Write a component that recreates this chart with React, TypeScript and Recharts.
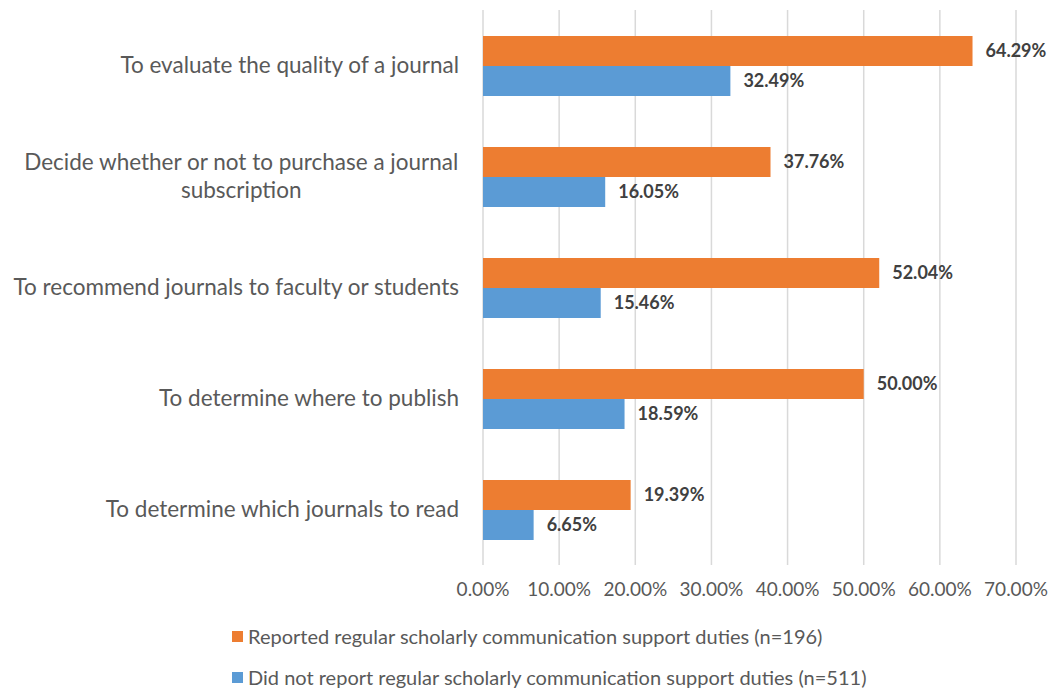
import React from "react";
import {
  BarChart,
  Bar,
  XAxis,
  YAxis,
  CartesianGrid,
  Legend,
  LabelList,
} from "recharts";

// Survey purposes (line breaks where the original wraps)
const CATEGORIES = [
  "To evaluate the quality of a journal",
  "Decide whether or not to purchase a journal\nsubscription",
  "To recommend journals to faculty or students",
  "To determine where to publish",
  "To determine which journals to read",
];

const REPORTED = [64.29, 37.76, 52.04, 50.0, 19.39];
const NOT_REPORTED = [32.49, 16.05, 15.46, 18.59, 6.65];

const X_TICKS = [0, 10, 20, 30, 40, 50, 60, 70];

const SERIES = [
  { key: "reported", name: "Reported regular scholarly communication support duties (n=196)", color: "#ED7D31" },
  { key: "notReported", name: "Did not report regular scholarly communication support duties (n=511)", color: "#5B9BD5" },
];

const FONT = "Lato, 'Open Sans', sans-serif";
const TEXT_GREY = "#595959";
const CAT_SIZE = 22.5;

const data = CATEGORIES.map((c, i) => ({
  category: c,
  reported: REPORTED[i],
  notReported: NOT_REPORTED[i],
}));

let ctx: CanvasRenderingContext2D | null = null;
function measure(text: string, font: string): number {
  if (!ctx) ctx = document.createElement("canvas").getContext("2d");
  if (!ctx) return text.length * 10;
  ctx.font = font;
  return ctx.measureText(text).width;
}

const CategoryTick = (props: any) => {
  const { x, y, payload } = props;
  const lines = String(payload.value).split("\n");
  const lh = 28;
  const y0 = y - ((lines.length - 1) * lh) / 2;
  if (lines.length === 1) {
    return (
      <text x={x} y={y} dy="0.35em" textAnchor="end" fill={TEXT_GREY} fontSize={CAT_SIZE} fontFamily={FONT}>
        {lines[0]}
      </text>
    );
  }
  // multi-line labels are centred on their widest line, like Excel does
  const w = Math.max(...lines.map(l => measure(l, `${CAT_SIZE}px Lato`)));
  const cx = x - w / 2;
  return (
    <text textAnchor="middle" fill={TEXT_GREY} fontSize={CAT_SIZE} fontFamily={FONT}>
      {lines.map((l, i) => (
        <tspan key={i} x={cx} y={y0 + i * lh} dy="0.35em">{l}</tspan>
      ))}
    </text>
  );
};

const LegendBox = () => (
  <div style={{ height: 84, position: "relative", fontFamily: FONT, fontSize: 20, color: TEXT_GREY }}>
    {SERIES.map((s, i) => (
      <div
        key={s.key}
        style={{ position: "absolute", left: 232, top: 19 + i * 41, display: "flex", alignItems: "center", whiteSpace: "nowrap" }}
      >
        <span style={{ width: 11, height: 11, background: s.color, display: "inline-block", marginRight: 5 }} />
        {s.name}
      </div>
    ))}
  </div>
);

const pct = (v: any) => `${Number(v).toFixed(2)}%`;

export default function App() {
  return (
    <div style={{ position: "absolute", left: 0, top: 0, background: "#fff" }}>
      <BarChart
        width={1052}
        height={689}
        data={data}
        layout="vertical"
        margin={{ top: 10, right: 36, left: 8, bottom: 0 }}
        barCategoryGap={26}
        barGap={0}
      >
        <CartesianGrid horizontal={false} stroke="#d9d9d9" strokeWidth={1.5} />
        <XAxis
          type="number"
          domain={[0, 70]}
          ticks={X_TICKS}
          tickFormatter={pct}
          axisLine={false}
          tickLine={false}
          tickSize={0}
          tickMargin={18}
          height={40}
          interval={0}
          tick={{ fill: TEXT_GREY, fontSize: 19, fontFamily: FONT }}
        />
        <YAxis
          type="category"
          dataKey="category"
          width={475}
          axisLine={false}
          tickLine={false}
          tickSize={0}
          tickMargin={24}
          interval={0}
          tick={<CategoryTick />}
        />
        <Legend verticalAlign="bottom" content={<LegendBox />} wrapperStyle={{ left: 0, width: 1052 }} />
        {SERIES.map(s => (
          <Bar key={s.key} dataKey={s.key} name={s.name} fill={s.color} isAnimationActive={false}>
            <LabelList
              dataKey={s.key}
              position="right"
              offset={13}
              formatter={pct}
              fill="#404040"
              fontWeight="bold"
              fontSize={18}
              fontFamily={FONT}
            />
          </Bar>
        ))}
      </BarChart>
    </div>
  );
}
